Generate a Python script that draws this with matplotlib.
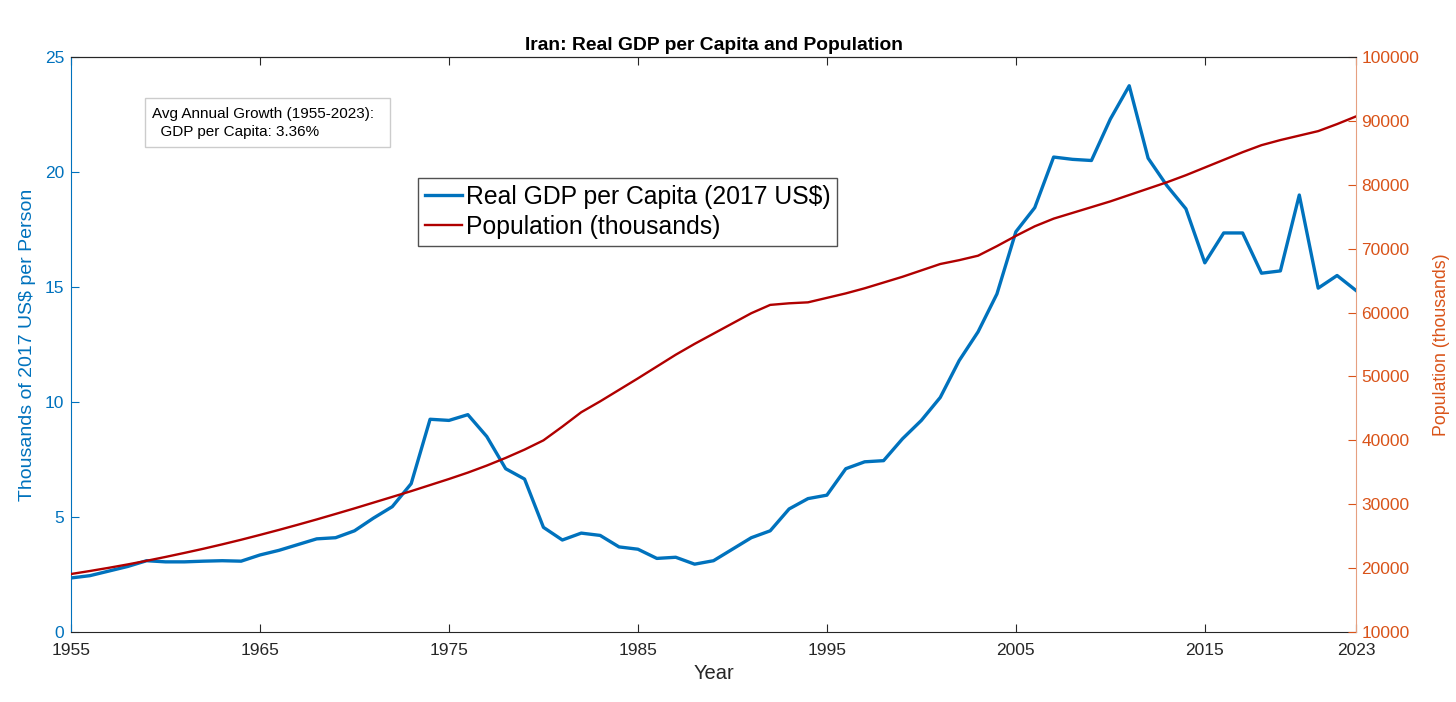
import matplotlib.pyplot as plt
from matplotlib.patches import Rectangle

plt.rcParams["font.family"] = ["Liberation Sans", "DejaVu Sans"]

years = list(range(1955, 2024))

gdp_pc = [
    2.35, 2.45, 2.65, 2.85, 3.10, 3.05, 3.05, 3.08, 3.10, 3.08,
    3.35, 3.55, 3.80, 4.05, 4.10, 4.40, 4.95, 5.45, 6.45, 9.25,
    9.20, 9.45, 8.50, 7.10, 6.65, 4.55, 4.00, 4.30, 4.20, 3.70,
    3.60, 3.20, 3.25, 2.95, 3.10, 3.60, 4.10, 4.40, 5.35, 5.80,
    5.95, 7.10, 7.40, 7.45, 8.40, 9.20, 10.20, 11.80, 13.05, 14.70,
    17.40, 18.45, 20.65, 20.55, 20.50, 22.30, 23.75, 20.60, 19.40, 18.40,
    16.05, 17.35, 17.35, 15.60, 15.70, 19.00, 14.95, 15.50, 14.85,
]

population = [
    19080, 19550, 20050, 20580, 21150, 21750, 22380, 23030, 23720, 24440,
    25200, 25980, 26790, 27620, 28480, 29350, 30250, 31150, 32050, 33000,
    33950, 34950, 36050, 37250, 38550, 40000, 42150, 44400, 46100, 47900,
    49700, 51550, 53400, 55100, 56700, 58300, 59900, 61200, 61450, 61600,
    62300, 63000, 63800, 64700, 65600, 66600, 67600, 68200, 68900, 70400,
    72000, 73500, 74700, 75600, 76500, 77400, 78400, 79400, 80400, 81500,
    82700, 83900, 85100, 86200, 87000, 87700, 88400, 89500, 90700,
]

x_ticks = [1955, 1965, 1975, 1985, 1995, 2005, 2015, 2023]

blue = "#0072BD"
orange = "#D95319"
red = "#B00000"

fig = plt.figure(figsize=(14.56, 7.02), dpi=100)
ax = fig.add_axes([0.0488, 0.0997, 0.8825, 0.8191])
ax2 = ax.twinx()

l1, = ax.plot(years, gdp_pc, color=blue, lw=2.4, label="Real GDP per Capita (2017 US$)")
l2, = ax2.plot(years, population, color=red, lw=1.7, label="Population (thousands)")

ax.set_xlim(1955, 2023)
ax.set_ylim(0, 25)
ax2.set_ylim(10000, 100000)
ax.set_xticks(x_ticks)
ax.set_yticks([0, 5, 10, 15, 20, 25])
ax2.set_yticks(range(10000, 100001, 10000))

ax.tick_params(axis="x", direction="in", length=6, labelsize=12.5, colors="#262626",
               top=True, pad=8)
ax.tick_params(axis="y", direction="in", length=6, labelsize=12.5, colors=blue, pad=5)
ax2.tick_params(axis="y", direction="in", length=6, labelsize=12.5, colors=orange, pad=4)

ax.spines["left"].set_color(blue)
ax.spines["bottom"].set_color("#262626")
ax.spines["top"].set_color("#262626")
ax2.spines["left"].set_visible(False)
ax2.spines["top"].set_color("#262626")
ax2.spines["bottom"].set_visible(False)
ax2.spines["right"].set_color("#E6A080")
ax.spines["right"].set_visible(False)

ax.set_xlabel("Year", fontsize=14.5, color="#262626", labelpad=4)
ax.set_ylabel("Thousands of 2017 US$ per Person", fontsize=14, color=blue, labelpad=6)
ax2.set_ylabel("Population (thousands)", fontsize=12.75, color=orange, labelpad=10)
ax.set_title("Iran: Real GDP per Capita and Population", fontsize=13.9,
             fontweight="bold", pad=5)

# annotation box (fixed size, like a MATLAB textbox)
ax2.add_patch(Rectangle((0.0576, 0.844), 0.1906, 0.084, transform=ax.transAxes,
                        fc="white", ec="#CCCCCC", lw=1, zorder=5))
ax2.text(0.0630, 0.885, "Avg Annual Growth (1955-2023):\n  GDP per Capita: 3.36%",
         transform=ax.transAxes, fontsize=11, va="center", ha="left", linespacing=1.3,
         zorder=6)

leg = ax2.legend(handles=[l1, l2], loc="upper left", bbox_to_anchor=(0.27, 0.79),
                 bbox_transform=ax.transAxes, borderaxespad=0, fontsize=17.8,
                 handlelength=1.5, handletextpad=0.15, borderpad=0.28,
                 labelspacing=0.26, frameon=True, fancybox=False)
leg.get_frame().set_edgecolor("#262626")
leg.get_frame().set_linewidth(1)

fig.savefig("out.png", dpi=100)
